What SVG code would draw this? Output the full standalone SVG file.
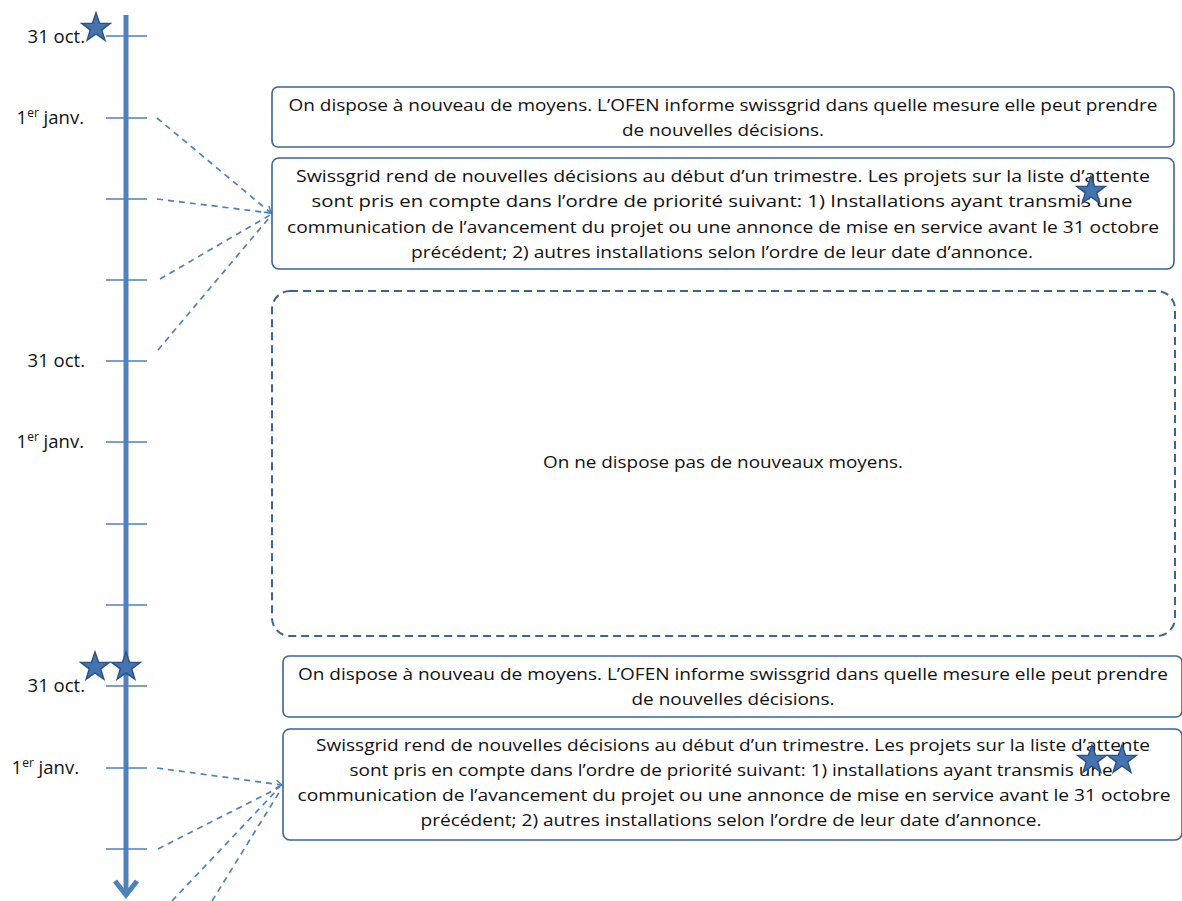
<svg xmlns="http://www.w3.org/2000/svg" xmlns:xlink="http://www.w3.org/1999/xlink" width="1182" height="901" viewBox="0 0 1182 901">
<style>
.t{font-family:"Open Sans","Liberation Sans",sans-serif;font-size:16px;fill:#111;}
.lab{font-family:"Open Sans","Liberation Sans",sans-serif;font-size:18.5px;fill:#111;text-anchor:end;}
.sup{font-size:12px;}
.box{fill:#fff;stroke:#3c6496;stroke-width:1.6;}
.dbox{fill:#fff;stroke:#3c6496;stroke-width:2;stroke-dasharray:8 5;}
.tick{stroke:#4f81bd;stroke-width:1.6;}
.conn{fill:none;stroke:#4f81bd;stroke-width:1.7;stroke-dasharray:6 5;}
.star{fill:#4573b0;stroke:#2c5285;stroke-width:1.5;stroke-linejoin:miter;}
</style>
<defs>
<marker id="ah" markerWidth="10" markerHeight="10" refX="8" refY="5" orient="auto" markerUnits="userSpaceOnUse">
<path d="M2,1 L8,5 L2,9" fill="none" stroke="#4f81bd" stroke-width="1.5"/>
</marker>
<path id="star" class="star" d="M0,-15 L3.53,-4.85 L14.27,-4.64 L5.71,1.85 L8.82,12.14 L0,6 L-8.82,12.14 L-5.71,1.85 L-14.27,-4.64 L-3.53,-4.85 Z"/>
</defs>

<g id="axis">
<line x1="126" y1="15" x2="126" y2="893" stroke="#4f81bd" stroke-width="5"/>
<polyline points="115,881 126,895 137,881" fill="none" stroke="#4f81bd" stroke-width="5" stroke-linejoin="miter"/>
<g class="tick">
<line x1="106" y1="36" x2="147" y2="36"/>
<line x1="106" y1="118" x2="147" y2="118"/>
<line x1="106" y1="199" x2="147" y2="199"/>
<line x1="106" y1="280" x2="147" y2="280"/>
<line x1="106" y1="361" x2="147" y2="361"/>
<line x1="106" y1="442" x2="147" y2="442"/>
<line x1="106" y1="524" x2="147" y2="524"/>
<line x1="106" y1="605" x2="147" y2="605"/>
<line x1="106" y1="686" x2="147" y2="686"/>
<line x1="106" y1="768" x2="147" y2="768"/>
<line x1="106" y1="849" x2="147" y2="849"/>
</g>
</g>

<g id="labels">
<text class="lab" x="85" y="43">31 oct.</text>
<text class="lab" x="84" y="124">1<tspan class="sup" dy="-7">er</tspan><tspan dy="7"> janv.</tspan></text>
<text class="lab" x="85" y="367">31 oct.</text>
<text class="lab" x="84" y="448">1<tspan class="sup" dy="-7">er</tspan><tspan dy="7"> janv.</tspan></text>
<text class="lab" x="85" y="692">31 oct.</text>
<text class="lab" x="79" y="774">1<tspan class="sup" dy="-7">er</tspan><tspan dy="7"> janv.</tspan></text>
</g>

<g id="connectors">
<line class="conn" x1="157" y1="118" x2="271" y2="213" marker-end="url(#ah)"/>
<line class="conn" x1="157" y1="199" x2="271" y2="213"/>
<line class="conn" x1="160" y1="279" x2="270" y2="215"/>
<line class="conn" x1="158" y1="350" x2="269" y2="218"/>
<line class="conn" x1="157" y1="768" x2="282" y2="785" marker-end="url(#ah)"/>
<line class="conn" x1="158" y1="849" x2="280" y2="787"/>
<line class="conn" x1="172" y1="901" x2="278" y2="789"/>
<line class="conn" x1="212" y1="901" x2="280" y2="791"/>
</g>

<g id="box1">
<rect class="box" x="272" y="87" width="902" height="60" rx="6"/>
<text class="t" x="723" y="111" text-anchor="middle" textLength="869" lengthAdjust="spacingAndGlyphs">On dispose à nouveau de moyens. L’OFEN informe swissgrid dans quelle mesure elle peut prendre</text>
<text class="t" x="723" y="136" text-anchor="middle" textLength="202" lengthAdjust="spacingAndGlyphs">de nouvelles décisions.</text>
</g>

<g id="box2">
<rect class="box" x="272" y="158" width="902" height="111" rx="7"/>
<text class="t" x="723" y="182" text-anchor="middle" textLength="854" lengthAdjust="spacingAndGlyphs">Swissgrid rend de nouvelles décisions au début d’un trimestre. Les projets sur la liste d’attente</text>
<text class="t" x="722" y="207" text-anchor="middle" textLength="821" lengthAdjust="spacingAndGlyphs">sont pris en compte dans l’ordre de priorité suivant: 1) Installations ayant transmis une</text>
<text class="t" x="723" y="233" text-anchor="middle" textLength="872" lengthAdjust="spacingAndGlyphs">communication de l’avancement du projet ou une annonce de mise en service avant le 31 octobre</text>
<text class="t" x="722" y="258" text-anchor="middle" textLength="622" lengthAdjust="spacingAndGlyphs">précédent; 2) autres installations selon l’ordre de leur date d’annonce.</text>
</g>

<g id="box-empty">
<rect class="dbox" x="272" y="291" width="903" height="345" rx="18"/>
<text class="t" x="723" y="468" text-anchor="middle" textLength="360" lengthAdjust="spacingAndGlyphs">On ne dispose pas de nouveaux moyens.</text>
</g>

<g id="box3">
<rect class="box" x="283" y="656" width="899" height="61" rx="6"/>
<text class="t" x="733" y="680" text-anchor="middle" textLength="870" lengthAdjust="spacingAndGlyphs">On dispose à nouveau de moyens. L’OFEN informe swissgrid dans quelle mesure elle peut prendre</text>
<text class="t" x="733" y="705" text-anchor="middle" textLength="203" lengthAdjust="spacingAndGlyphs">de nouvelles décisions.</text>
</g>

<g id="box4">
<rect class="box" x="283" y="729" width="899" height="111" rx="7"/>
<text class="t" x="733" y="751" text-anchor="middle" textLength="834" lengthAdjust="spacingAndGlyphs">Swissgrid rend de nouvelles décisions au début d’un trimestre. Les projets sur la liste d’attente</text>
<text class="t" x="731" y="776" text-anchor="middle" textLength="763" lengthAdjust="spacingAndGlyphs">sont pris en compte dans l’ordre de priorité suivant: 1) installations ayant transmis une</text>
<text class="t" x="734" y="801" text-anchor="middle" textLength="873" lengthAdjust="spacingAndGlyphs">communication de l’avancement du projet ou une annonce de mise en service avant le 31 octobre</text>
<text class="t" x="731" y="826" text-anchor="middle" textLength="621" lengthAdjust="spacingAndGlyphs">précédent; 2) autres installations selon l’ordre de leur date d’annonce.</text>
</g>

<g id="stars">
<use xlink:href="#star" href="#star" x="96" y="28"/>
<use xlink:href="#star" href="#star" x="1091" y="191"/>
<use xlink:href="#star" href="#star" x="95" y="667"/>
<use xlink:href="#star" href="#star" x="126" y="667"/>
<use xlink:href="#star" href="#star" x="1092" y="760"/>
<use xlink:href="#star" href="#star" x="1122" y="760"/>
</g>
</svg>
